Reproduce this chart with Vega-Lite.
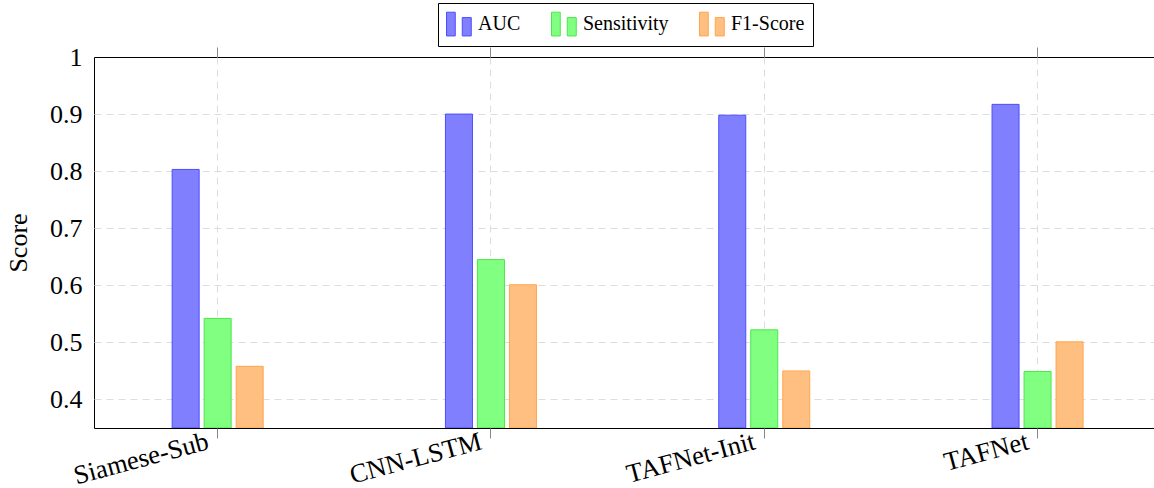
{
  "$schema": "https://vega.github.io/schema/vega-lite/v6.json",
  "width": 1060,
  "height": 371,
  "autosize": {"type": "none"},
  "padding": {"left": 94, "top": 57, "right": 0, "bottom": 60},
  "background": "white",
  "config": {
    "view": {"stroke": "black", "strokeWidth": 1},
    "font": "Liberation Serif, Times New Roman, serif",
    "legend": {
      "orient": "none",
      "legendX": 344,
      "legendY": -54,
      "direction": "horizontal",
      "strokeColor": "black",
      "fillColor": "white",
      "padding": 8,
      "symbolType": "M-1,-0.95H-0.3V0.95H-1ZM0.26,-0.52H0.98V0.95H0.26Z",
      "symbolSize": 625,
      "symbolStrokeWidth": 1,
      "labelFontSize": 20,
      "labelFont": "Liberation Serif, Times New Roman, serif",
      "labelColor": "black",
      "columnPadding": 28,
      "labelOffset": 6
    }
  },
  "data": {
    "values": [
      {"model": "Siamese-Sub", "metric": "AUC", "score": 0.803},
      {"model": "Siamese-Sub", "metric": "Sensitivity", "score": 0.542},
      {"model": "Siamese-Sub", "metric": "F1-Score", "score": 0.458},
      {"model": "CNN-LSTM", "metric": "AUC", "score": 0.900},
      {"model": "CNN-LSTM", "metric": "Sensitivity", "score": 0.645},
      {"model": "CNN-LSTM", "metric": "F1-Score", "score": 0.601},
      {"model": "TAFNet-Init", "metric": "AUC", "score": 0.898},
      {"model": "TAFNet-Init", "metric": "Sensitivity", "score": 0.522},
      {"model": "TAFNet-Init", "metric": "F1-Score", "score": 0.450},
      {"model": "TAFNet", "metric": "AUC", "score": 0.917},
      {"model": "TAFNet", "metric": "Sensitivity", "score": 0.449},
      {"model": "TAFNet", "metric": "F1-Score", "score": 0.501}
    ]
  },
  "resolve": {"axis": {"x": "independent"}},
  "layer": [
    {
      "mark": {"type": "bar", "strokeWidth": 1, "clip": true},
      "encoding": {
        "x": {
          "field": "model",
          "type": "nominal",
          "sort": ["Siamese-Sub", "CNN-LSTM", "TAFNet-Init", "TAFNet"],
          "scale": {"paddingInner": 0.6487, "paddingOuter": 0.2636, "align": 0.525, "round": false},
          "axis": {
            "title": null,
            "labelAngle": -15,
            "labelAlign": "right",
            "labelBaseline": "top",
            "labelFontSize": 26.5,
            "labelFont": "Liberation Serif, Times New Roman, serif",
            "labelColor": "black",
            "labelPadding": -10,
            "labelOffset": -13,
            "tickSize": 10,
            "tickColor": "#888888",
            "domain": false,
            "grid": true,
            "gridDash": [7, 5],
            "gridColor": "#dddddd"
          }
        },
        "xOffset": {
          "field": "metric",
          "type": "nominal",
          "sort": ["AUC", "Sensitivity", "F1-Score"],
          "scale": {"paddingInner": 0.156, "paddingOuter": 0.078}
        },
        "y": {
          "field": "score",
          "type": "quantitative",
          "scale": {"domain": [0.35, 1], "zero": false, "nice": false},
          "axis": {
            "values": [0.4, 0.5, 0.6, 0.7, 0.8, 0.9, 1.0],
            "labelExpr": "datum.value == 1 ? '1' : format(datum.value, '.1f')",
            "labelFontSize": 26,
            "labelFont": "Liberation Serif, Times New Roman, serif",
            "labelColor": "black",
            "labelPadding": 12,
            "ticks": false,
            "domain": false,
            "grid": true,
            "gridDash": [7, 5],
            "gridColor": "#dddddd",
            "gridOpacity": {"condition": {"test": "datum.value >= 0.99", "value": 0}, "value": 1},
            "title": "Score",
            "titleFontSize": 26,
            "titleFont": "Liberation Serif, Times New Roman, serif",
            "titleFontWeight": "normal",
            "titleColor": "black",
            "titlePadding": 18
          }
        },
        "y2": {"datum": 0.35},
        "color": {
          "field": "metric",
          "type": "nominal",
          "title": null,
          "sort": ["AUC", "Sensitivity", "F1-Score"],
          "scale": {"domain": ["AUC", "Sensitivity", "F1-Score"], "range": ["#8080ff", "#80ff80", "#ffbf80"]}
        },
        "stroke": {
          "field": "metric",
          "type": "nominal",
          "title": null,
          "sort": ["AUC", "Sensitivity", "F1-Score"],
          "scale": {"domain": ["AUC", "Sensitivity", "F1-Score"], "range": ["#4d4dff", "#4de64d", "#ffa64d"]}
        }
      }
    },
    {
      "mark": {"type": "tick", "opacity": 0},
      "encoding": {
        "x": {
          "field": "model",
          "type": "nominal",
          "sort": ["Siamese-Sub", "CNN-LSTM", "TAFNet-Init", "TAFNet"],
          "scale": {"paddingInner": 0.6487, "paddingOuter": 0.2636, "align": 0.525, "round": false},
          "axis": {
            "orient": "top",
            "title": null,
            "labels": false,
            "tickSize": 10,
            "tickColor": "#888888",
            "domain": false,
            "grid": false
          }
        }
      }
    }
  ]
}
